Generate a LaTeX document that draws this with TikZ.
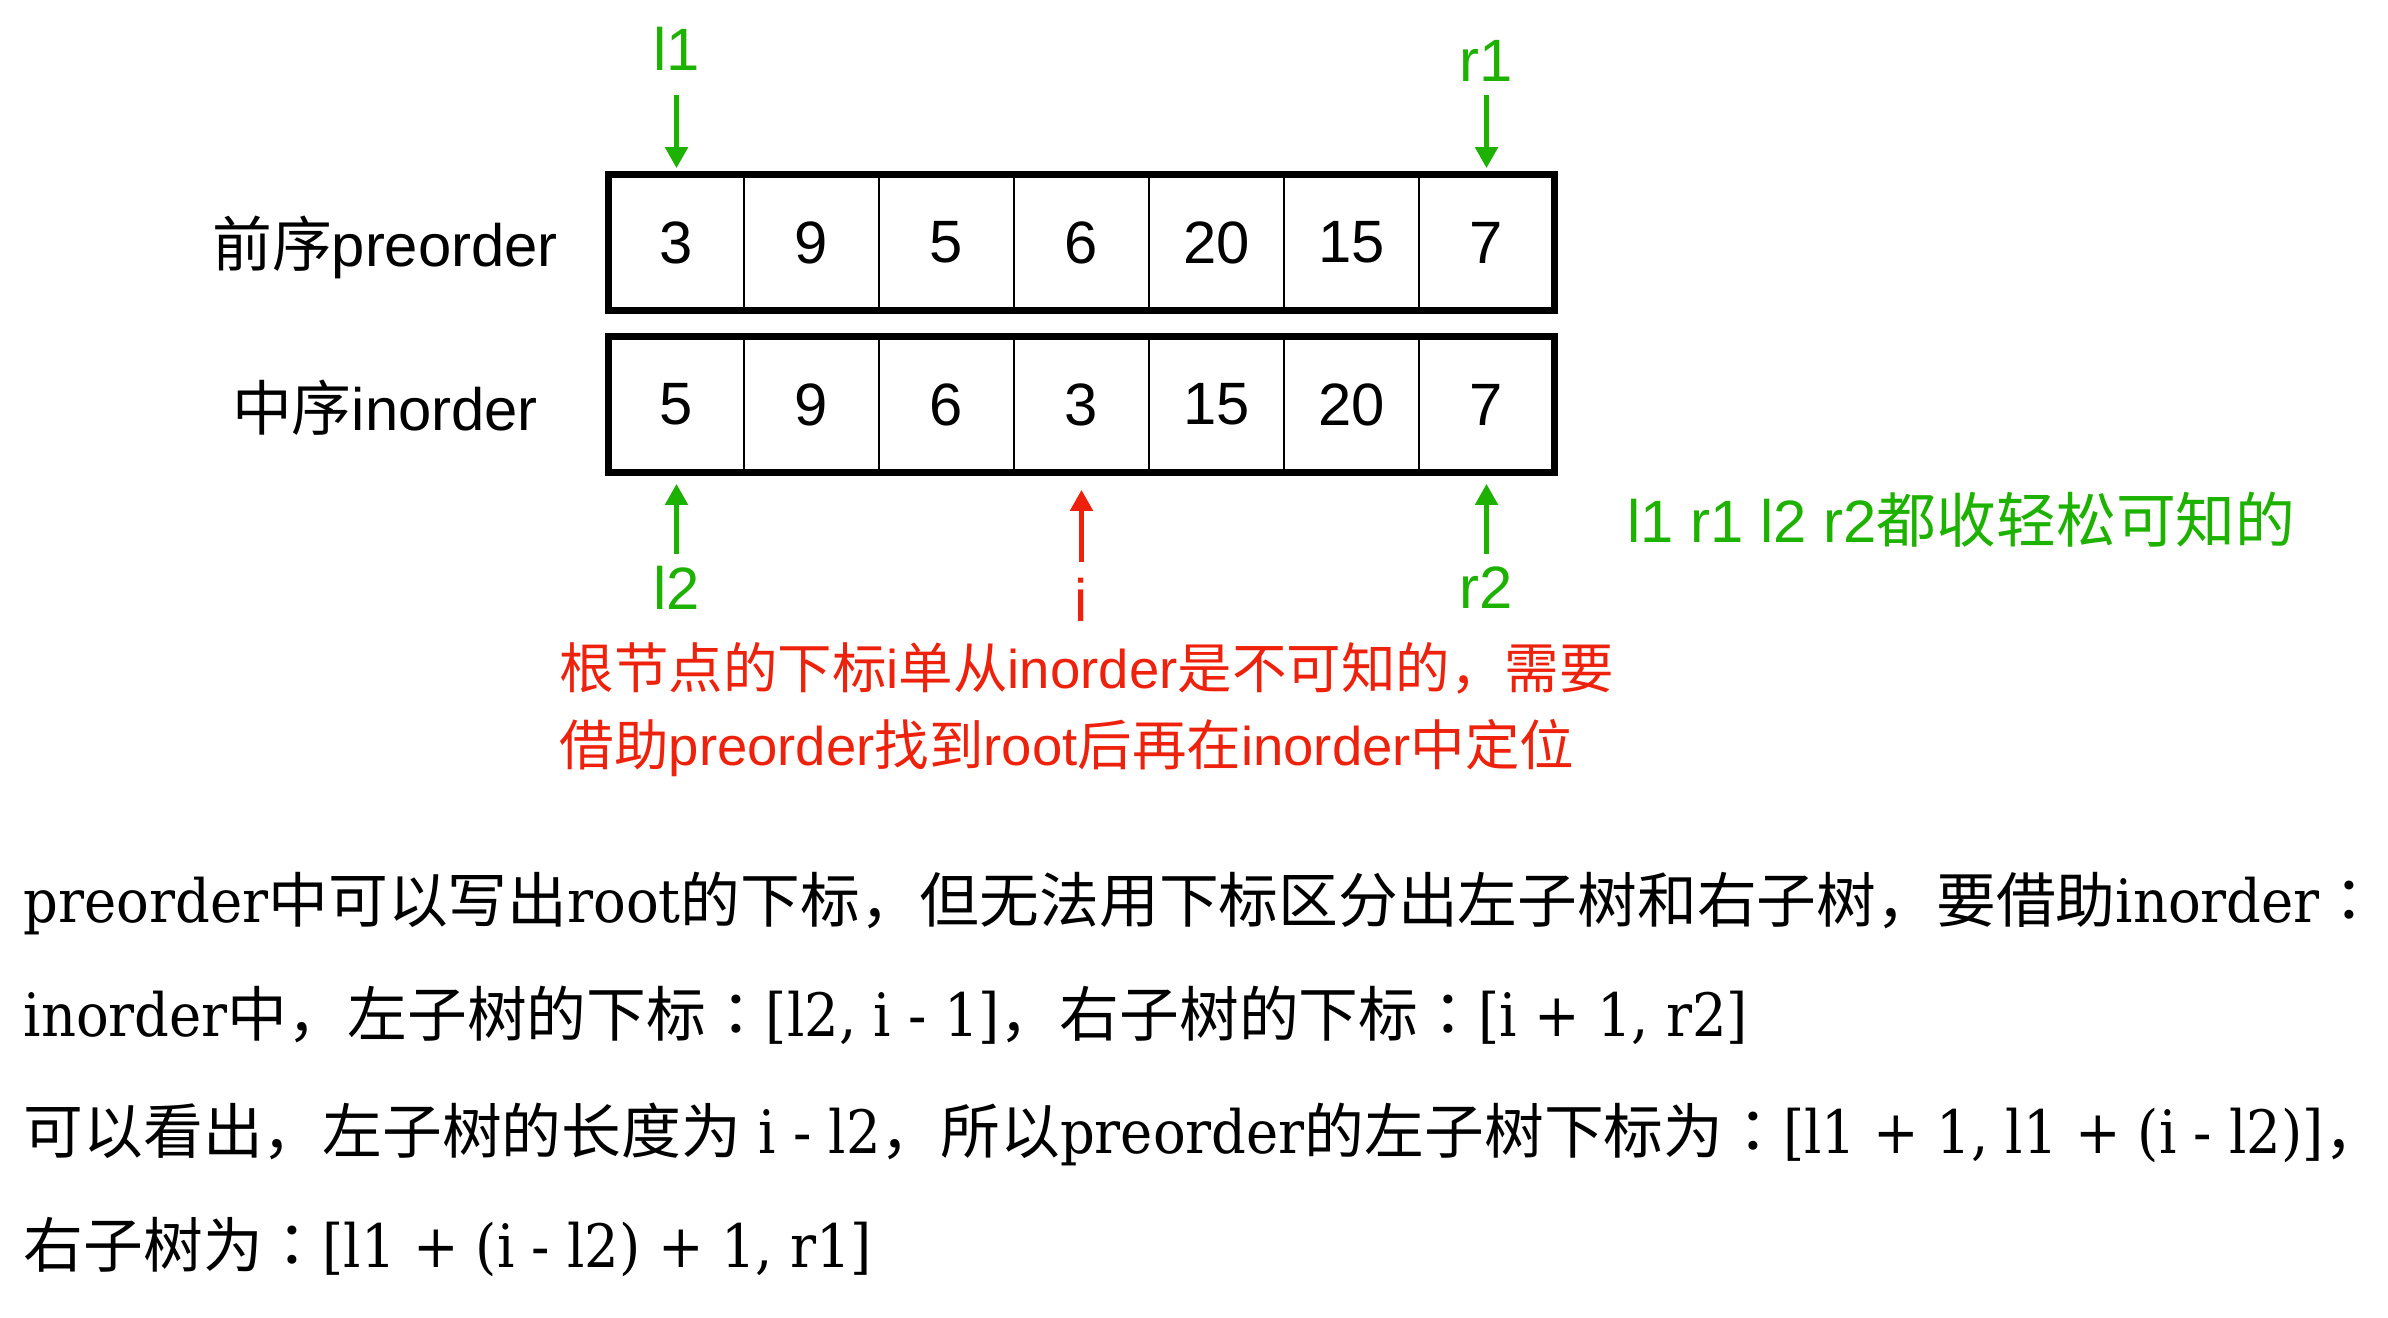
\documentclass[tikz,border=0pt]{standalone}
\usepackage{fontspec}
\setmainfont{DejaVu Serif}[FakeStretch=0.91]
\setsansfont{Liberation Sans}
\newfontfamily\cjk{Noto Sans CJK SC}
\newfontfamily\cjktc{Noto Sans CJK TC}
\usepackage{xcolor}
\usetikzlibrary{positioning,arrows.meta}
\definecolor{kgreen}{HTML}{1DB100}
\definecolor{kred}{HTML}{EE220C}
\newcommand{\zh}[1]{{\cjk #1}}
\newcommand{\zhcolon}{{\cjktc ：}}

\begin{document}
\begin{tikzpicture}[x=0.01cm, y=-0.01cm,
    cell/.style={draw, line width=0.45pt, minimum width=1.35cm, minimum height=1.35cm,
                 inner sep=0pt, font=\sffamily\fontsize{17}{20}\selectfont},
    frame/.style={line width=2pt},
    lab/.style={inner sep=0pt, font=\sffamily\fontsize{17}{20}\selectfont},
    glab/.style={lab, text=kgreen},
    rlab/.style={lab, text=kred},
    note/.style={inner sep=0pt, anchor=west, font=\sffamily\fontsize{15.5}{18}\selectfont},
    body/.style={inner sep=0pt, anchor=base west, font=\fontsize{17}{20}\selectfont},
    garr/.style={-{Triangle[length=0.21cm, width=0.22cm]}, line width=1.4pt, kgreen},
    rarr/.style={garr, kred}
]
    \useasboundingbox (0,0) rectangle (2388,1317);

    \foreach \v [count=\k] in {3,9,5,6,20,15,7}
        \node[cell] (p\k) at ({541.5+135*\k}, 242.5) {\v};
    \foreach \v [count=\k] in {5,9,6,3,15,20,7}
        \node[cell] (q\k) at ({541.5+135*\k}, 404.5) {\v};
    \draw[frame] (p1.north west) rectangle (p7.south east);
    \draw[frame] (q1.north west) rectangle (q7.south east);

    \node[lab] (prelab) at (385,247) {\zh{前序}preorder};
    \node[lab] (inlab) at (385,408) {\zh{中序}inorder};

    \node[glab, above=1.03cm of p1] (l1) {l1};
    \node[glab, above=0.92cm of p7] (r1) {r1};
    \node[glab, below=0.93cm of q1] (l2) {l2};
    \node[rlab, below=1.05cm of q4] (i) {i};
    \node[glab, below=0.93cm of q7] (r2) {r2};

    \draw[garr, shorten <=0.24cm, shorten >=0.06cm] (l1) -- (p1);
    \draw[garr, shorten <=0.13cm, shorten >=0.06cm] (r1) -- (p7);
    \draw[garr, shorten <=0.12cm, shorten >=0.11cm] (l2) -- (q1);
    \draw[rarr, shorten <=0.16cm, shorten >=0.17cm] (i) -- (q4);
    \draw[garr, shorten <=0.12cm, shorten >=0.11cm] (r2) -- (q7);

    \node[note, text=kgreen, font=\sffamily\fontsize{17}{20}\selectfont] (known) at (1627,520)
        {l1 r1 l2 r2\zh{都收轻松可知的}};
    \node[note, text=kred] (hint1) at (559,668)
        {\zh{根节点的下标}i\zh{单从}inorder\zh{是不可知的，需要}};
    \node[note, text=kred] (hint2) at (559,748)
        {\zh{借助}preorder\zh{找到}root\zh{后再在}inorder\zh{中定位}};

    \node[body] (t1) at (23,922)
        {preorder\zh{中可以写出}root\zh{的下标，但无法用下标区分出左子树和右子树，要借助}inorder\zhcolon};
    \node[body] (t2) at (23,1036)
        {inorder\zh{中，左子树的下标}\zhcolon[l2, i - 1]\zh{，右子树的下标}\zhcolon[i + 1, r2]};
    \node[body] (t3) at (23,1153)
        {\zh{可以看出，左子树的长度为} i - l2\zh{，所以}preorder\zh{的左子树下标为}\zhcolon[l1 + 1, l1 + (i - l2)]\zh{，}};
    \node[body] (t4) at (23,1267)
        {\zh{右子树为}\zhcolon[l1 + (i - l2) + 1, r1]};
\end{tikzpicture}
\end{document}
